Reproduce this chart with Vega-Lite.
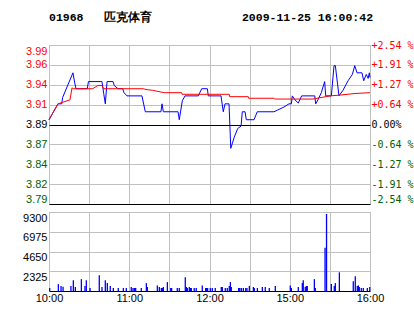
{
  "$schema": "https://vega.github.io/schema/vega-lite/v6.json",
  "padding": {"left": 22, "top": 11, "right": 0, "bottom": 0},
  "background": "white",
  "spacing": 6,
  "config": {
    "view": {"stroke": "#c0c0c0", "strokeWidth": 1},
    "axis": {"gridColor": "#c0c0c0", "gridWidth": 1, "gridOpacity": 1, "domain": false, "ticks": false, "tickSize": 0, "title": null, "labelFont": "Liberation Sans", "labelFontSize": 11, "labelPadding": 2, "labelColor": "black", "labelOverlap": false}
  },
  "datasets": {
    "price": [
      {"t":0,"p":3.896},{"t":6.7,"p":3.916},{"t":9.5,"p":3.916},{"t":10.2,"p":3.924},{"t":17.9,"p":3.955},{"t":19.4,"p":3.941},{"t":20.2,"p":3.935},{"t":28.6,"p":3.935},{"t":29.5,"p":3.944},{"t":39.6,"p":3.944},{"t":40.9,"p":3.929},{"t":42.1,"p":3.916},{"t":43.4,"p":3.944},{"t":47.9,"p":3.944},{"t":48.8,"p":3.939},{"t":51.6,"p":3.935},{"t":55.1,"p":3.935},{"t":56.1,"p":3.930},{"t":58.3,"p":3.926},{"t":69.5,"p":3.926},{"t":72.0,"p":3.906},{"t":83.7,"p":3.906},{"t":84.5,"p":3.916},{"t":85.5,"p":3.906},{"t":96.5,"p":3.906},{"t":97.4,"p":3.896},{"t":99.7,"p":3.920},{"t":101.7,"p":3.926},{"t":111.6,"p":3.926},{"t":114.2,"p":3.935},{"t":118.4,"p":3.935},{"t":119.1,"p":3.926},{"t":128.6,"p":3.926},{"t":130.3,"p":3.906},{"t":131.6,"p":3.916},{"t":134.6,"p":3.916},{"t":135.9,"p":3.860},{"t":138.5,"p":3.874},{"t":141.1,"p":3.885},{"t":143.6,"p":3.888},{"t":144.5,"p":3.906},{"t":146.6,"p":3.906},{"t":147.5,"p":3.896},{"t":153.3,"p":3.896},{"t":155.7,"p":3.906},{"t":168.2,"p":3.906},{"t":170.7,"p":3.908},{"t":175.7,"p":3.912},{"t":179.4,"p":3.916},{"t":181.2,"p":3.916},{"t":181.9,"p":3.926},{"t":183.9,"p":3.921},{"t":186.4,"p":3.917},{"t":188.9,"p":3.926},{"t":198.7,"p":3.926},{"t":199.4,"p":3.916},{"t":201.1,"p":3.921},{"t":203.6,"p":3.930},{"t":206.1,"p":3.944},{"t":206.9,"p":3.926},{"t":211.1,"p":3.926},{"t":213.1,"p":3.964},{"t":214.1,"p":3.964},{"t":216.8,"p":3.926},{"t":219.8,"p":3.933},{"t":223.6,"p":3.945},{"t":226.8,"p":3.953},{"t":228.6,"p":3.964},{"t":230.3,"p":3.955},{"t":234.0,"p":3.955},{"t":235.3,"p":3.945},{"t":237.2,"p":3.953},{"t":238.6,"p":3.948},{"t":239.5,"p":3.955},{"t":240,"p":3.949}
    ],
    "avg": [
      {"t":0,"p":3.896},{"t":6.7,"p":3.916},{"t":15.7,"p":3.921},{"t":17.2,"p":3.936},{"t":18.2,"p":3.935},{"t":32.7,"p":3.935},{"t":36.4,"p":3.939},{"t":39.6,"p":3.939},{"t":40.9,"p":3.935},{"t":70.5,"p":3.935},{"t":72.5,"p":3.934},{"t":77.5,"p":3.933},{"t":86.2,"p":3.930},{"t":99.2,"p":3.930},{"t":99.5,"p":3.928},{"t":134.8,"p":3.928},{"t":135.0,"p":3.925},{"t":149.0,"p":3.925},{"t":149.2,"p":3.923},{"t":168.2,"p":3.923},{"t":168.6,"p":3.922},{"t":197.4,"p":3.922},{"t":210.1,"p":3.926},{"t":217.6,"p":3.927},{"t":228.8,"p":3.929},{"t":240,"p":3.930}
    ],
    "vol": [
      {"t":0.5,"v":350},{"t":7.0,"v":810},{"t":9.0,"v":600},{"t":10.5,"v":500},{"t":16.4,"v":600},{"t":18.2,"v":1280},{"t":19.7,"v":470},{"t":24.2,"v":1400},{"t":26.9,"v":600},{"t":27.9,"v":1280},{"t":30.7,"v":350},{"t":37.6,"v":1860},{"t":39.6,"v":470},{"t":42.1,"v":1280},{"t":43.6,"v":930},{"t":45.8,"v":600},{"t":48.1,"v":350},{"t":51.8,"v":350},{"t":55.6,"v":350},{"t":57.8,"v":350},{"t":61.5,"v":470},{"t":62.8,"v":350},{"t":63.8,"v":350},{"t":64.8,"v":350},{"t":69.0,"v":350},{"t":72.8,"v":930},{"t":73.5,"v":470},{"t":81.0,"v":660},{"t":82.5,"v":470},{"t":84.0,"v":350},{"t":84.7,"v":350},{"t":85.5,"v":470},{"t":88.5,"v":1050},{"t":91.0,"v":350},{"t":91.7,"v":350},{"t":95.9,"v":350},{"t":97.4,"v":350},{"t":101.9,"v":1630},{"t":102.7,"v":470},{"t":103.4,"v":350},{"t":104.9,"v":470},{"t":105.7,"v":350},{"t":106.4,"v":350},{"t":108.6,"v":350},{"t":110.1,"v":350},{"t":114.6,"v":660},{"t":117.1,"v":350},{"t":117.9,"v":350},{"t":118.6,"v":350},{"t":120.6,"v":350},{"t":122.1,"v":350},{"t":124.3,"v":350},{"t":128.8,"v":470},{"t":129.6,"v":470},{"t":131.8,"v":350},{"t":133.3,"v":350},{"t":134.8,"v":600},{"t":135.6,"v":1050},{"t":136.3,"v":470},{"t":141.8,"v":350},{"t":142.6,"v":350},{"t":143.8,"v":350},{"t":145.3,"v":350},{"t":147.1,"v":350},{"t":148.0,"v":350},{"t":149.8,"v":600},{"t":152.8,"v":470},{"t":153.5,"v":350},{"t":155.8,"v":350},{"t":159.5,"v":470},{"t":161.7,"v":470},{"t":164.7,"v":350},{"t":169.2,"v":600},{"t":180.4,"v":660},{"t":181.2,"v":350},{"t":186.4,"v":470},{"t":189.4,"v":930},{"t":190.1,"v":1280},{"t":191.6,"v":470},{"t":192.4,"v":600},{"t":193.1,"v":600},{"t":198.4,"v":1400},{"t":199.1,"v":350},{"t":206.4,"v":5100},{"t":207.5,"v":9070},{"t":211.1,"v":810},{"t":213.3,"v":600},{"t":214.1,"v":930},{"t":217.1,"v":2200},{"t":227.5,"v":1160},{"t":229.0,"v":1740},{"t":230.5,"v":600},{"t":231.3,"v":660},{"t":232.0,"v":470},{"t":233.5,"v":350},{"t":235.0,"v":350},{"t":238.0,"v":350},{"t":239.8,"v":470}
    ]
  },
  "vconcat": [
    {
      "width": 321,
      "height": 159,
      "title": {"text": "01968\u00a0\u00a0\u00a0匹克体育\u00a0\u00a0\u00a0\u00a0\u00a0\u00a0\u00a0\u00a0\u00a0\u00a0\u00a0\u00a0\u00a02009-11-25 16:00:42", "anchor": "start", "frame": "group", "font": "Liberation Mono", "fontSize": 11.5, "fontWeight": "bold", "color": "black", "offset": 17},
      "layer": [
        {
          "data": {"name": "price"},
          "mark": {"type": "line", "color": "#0000ff", "strokeWidth": 1},
          "encoding": {
            "x": {"field": "t", "type": "quantitative", "scale": {"domain": [0, 240], "nice": false, "zero": false},
                  "axis": {"values": [0,30,60,90,120,150,180,210,240], "labels": false, "grid": true}},
            "y": {"field": "p", "type": "quantitative", "scale": {"domain": [3.79, 3.99], "nice": false, "zero": false},
                  "axis": {"orient": "left", "values": [3.79,3.815,3.84,3.865,3.89,3.915,3.94,3.965,3.99], "grid": true,
                           "labelFlush": true,
                           "labelExpr": "['3.79','3.82','3.84','3.87','3.89','3.91','3.94','3.96','3.99'][round((datum.value-3.79)/0.025)]",
                           "labelColor": {"condition": [{"test": "datum.value > 3.895", "value": "#ff0000"}, {"test": "datum.value < 3.885", "value": "#006000"}], "value": "black"},
                           "gridColor": {"condition": {"test": "abs(datum.value-3.89) < 0.001 || datum.value < 3.795", "value": "black"}, "value": "#c0c0c0"}}}
          }
        },
        {
          "data": {"name": "avg"},
          "mark": {"type": "line", "color": "#ff0000", "strokeWidth": 1},
          "encoding": {
            "x": {"field": "t", "type": "quantitative"},
            "y": {"field": "p", "type": "quantitative", "scale": {"domain": [3.79, 3.99], "nice": false, "zero": false},
                  "axis": {"orient": "right", "values": [3.79,3.815,3.84,3.865,3.89,3.915,3.94,3.965,3.99], "grid": false,
                           "labelFont": "DejaVu Sans Mono", "labelFontSize": 10, "labelPadding": 1,
                           "labelBaseline": {"condition": {"test": "datum.value < 3.795", "value": "bottom"}, "value": "middle"},
                           "labelExpr": "['-2.54 %','-1.91 %','-1.27 %','-0.64 %','\u00a00.00%','+0.64 %','+1.27 %','+1.91 %','+2.54 %'][round((datum.value-3.79)/0.025)]",
                           "labelColor": {"condition": [{"test": "datum.value > 3.895", "value": "#ff0000"}, {"test": "datum.value < 3.885", "value": "#006000"}], "value": "black"}}}
          }
        }
      ],
      "resolve": {"scale": {"y": "independent"}}
    },
    {
      "width": 321,
      "height": 79,
      "data": {"name": "vol"},
      "mark": {"type": "rule", "color": "#0000ff", "strokeWidth": 1.3},
      "encoding": {
        "x": {"field": "t", "type": "quantitative", "scale": {"domain": [0, 240], "nice": false, "zero": false},
              "axis": {"values": [0,30,60,90,120,150,180,210,240], "grid": true, "labelFlush": false, "labelBound": false, "labelPadding": 1,
                       "labelExpr": "datum.value==0?'10:00':datum.value==60?'11:00':datum.value==120?'12:00':datum.value==180?'15:00':datum.value==240?'16:00':''"}},
        "y": {"field": "v", "type": "quantitative", "scale": {"domain": [0, 9300], "nice": false, "zero": true},
              "axis": {"values": [0, 2325, 4650, 6975, 9300], "grid": true, "labelBaseline": "top",
                       "labelExpr": "datum.value == 0 ? '' : datum.label", "format": "d",
                       "gridColor": {"condition": {"test": "datum.value < 1", "value": "black"}, "value": "#c0c0c0"}}},
        "y2": {"datum": 0}
      }
    }
  ]
}
